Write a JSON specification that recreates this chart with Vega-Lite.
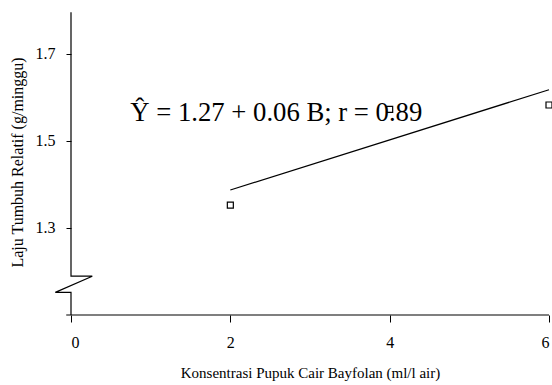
{
  "$schema": "https://vega.github.io/schema/vega-lite/v6.json",
  "width": 478,
  "height": 305,
  "autosize": {"type": "none"},
  "padding": {"left": 71, "top": 10, "right": 3, "bottom": 70},
  "background": "white",
  "config": {
    "view": {"stroke": null},
    "font": "Liberation Serif",
    "axis": {
      "domain": false,
      "grid": false,
      "tickColor": "black",
      "tickWidth": 1,
      "labelColor": "black",
      "titleColor": "black",
      "labelFont": "Liberation Serif",
      "titleFont": "Liberation Serif",
      "titleFontWeight": "normal",
      "labelFontSize": 16,
      "titleFontSize": 16
    }
  },
  "datasets": {
    "pengamatan": [
      {"B": 2, "laju": 1.352},
      {"B": 4, "laju": 1.572},
      {"B": 6, "laju": 1.582}
    ],
    "regresi": [
      {"B": 2, "laju": 1.387},
      {"B": 6, "laju": 1.617}
    ],
    "sumbu_y": [
      {"urut": 1, "B": 0, "laju": 1.795},
      {"urut": 2, "B": 0, "laju": 1.189},
      {"urut": 3, "B": 0.267, "laju": 1.189},
      {"urut": 4, "B": -0.197, "laju": 1.152},
      {"urut": 5, "B": 0, "laju": 1.152},
      {"urut": 6, "B": 0, "laju": 1.1}
    ],
    "sumbu_x": [
      {"B": -0.06, "B2": 6, "laju": 1.1}
    ],
    "persamaan": [
      {"B": 0.744, "laju": 1.545, "teks": "Ŷ = 1.27 + 0.06 B; r = 0.89"}
    ]
  },
  "layer": [
    {
      "data": {"name": "pengamatan"},
      "mark": {"type": "point", "opacity": 0},
      "encoding": {
        "x": {
          "field": "B",
          "type": "quantitative",
          "scale": {"domain": [0, 6], "nice": false, "zero": false},
          "axis": {
            "title": "Konsentrasi Pupuk Cair Bayfolan (ml/l air)",
            "values": [0, 2, 4, 6],
            "format": "d",
            "labelAngle": 0,
            "tickSize": 7,
            "labelPadding": 12,
            "titleFontSize": 15,
            "titleY": 62,
            "titleBaseline": "alphabetic"
          }
        },
        "y": {
          "field": "laju",
          "type": "quantitative",
          "scale": {"domain": [1.1, 1.8], "nice": false, "zero": false},
          "axis": {
            "title": "Laju Tumbuh Relatif (g/minggu)",
            "values": [1.3, 1.5, 1.7],
            "format": ".1f",
            "tickSize": 5,
            "labelPadding": 11,
            "titleAngle": -90,
            "titleX": -49,
            "titleY": 152,
            "titleAlign": "center",
            "titleBaseline": "alphabetic"
          }
        }
      }
    },
    {
      "data": {"name": "sumbu_x"},
      "mark": {"type": "rule", "color": "black", "strokeWidth": 1.2},
      "encoding": {
        "x": {"field": "B", "type": "quantitative"},
        "x2": {"field": "B2"},
        "y": {"field": "laju", "type": "quantitative"}
      }
    },
    {
      "data": {"name": "sumbu_y"},
      "mark": {"type": "line", "color": "black", "strokeWidth": 1.2},
      "encoding": {
        "x": {"field": "B", "type": "quantitative"},
        "y": {"field": "laju", "type": "quantitative"},
        "order": {"field": "urut", "type": "quantitative"}
      }
    },
    {
      "data": {"name": "regresi"},
      "mark": {"type": "line", "color": "black", "strokeWidth": 1.2},
      "encoding": {
        "x": {"field": "B", "type": "quantitative"},
        "y": {"field": "laju", "type": "quantitative"}
      }
    },
    {
      "data": {"name": "persamaan"},
      "mark": {
        "type": "text",
        "font": "Liberation Serif",
        "fontSize": 26.7,
        "align": "left",
        "baseline": "alphabetic",
        "color": "black"
      },
      "encoding": {
        "x": {"field": "B", "type": "quantitative"},
        "y": {"field": "laju", "type": "quantitative"},
        "text": {"field": "teks"}
      }
    },
    {
      "data": {"name": "pengamatan"},
      "mark": {"type": "square", "filled": false, "size": 36, "stroke": "black", "strokeWidth": 1.2, "opacity": 1},
      "encoding": {
        "x": {"field": "B", "type": "quantitative"},
        "y": {"field": "laju", "type": "quantitative"}
      }
    }
  ]
}
